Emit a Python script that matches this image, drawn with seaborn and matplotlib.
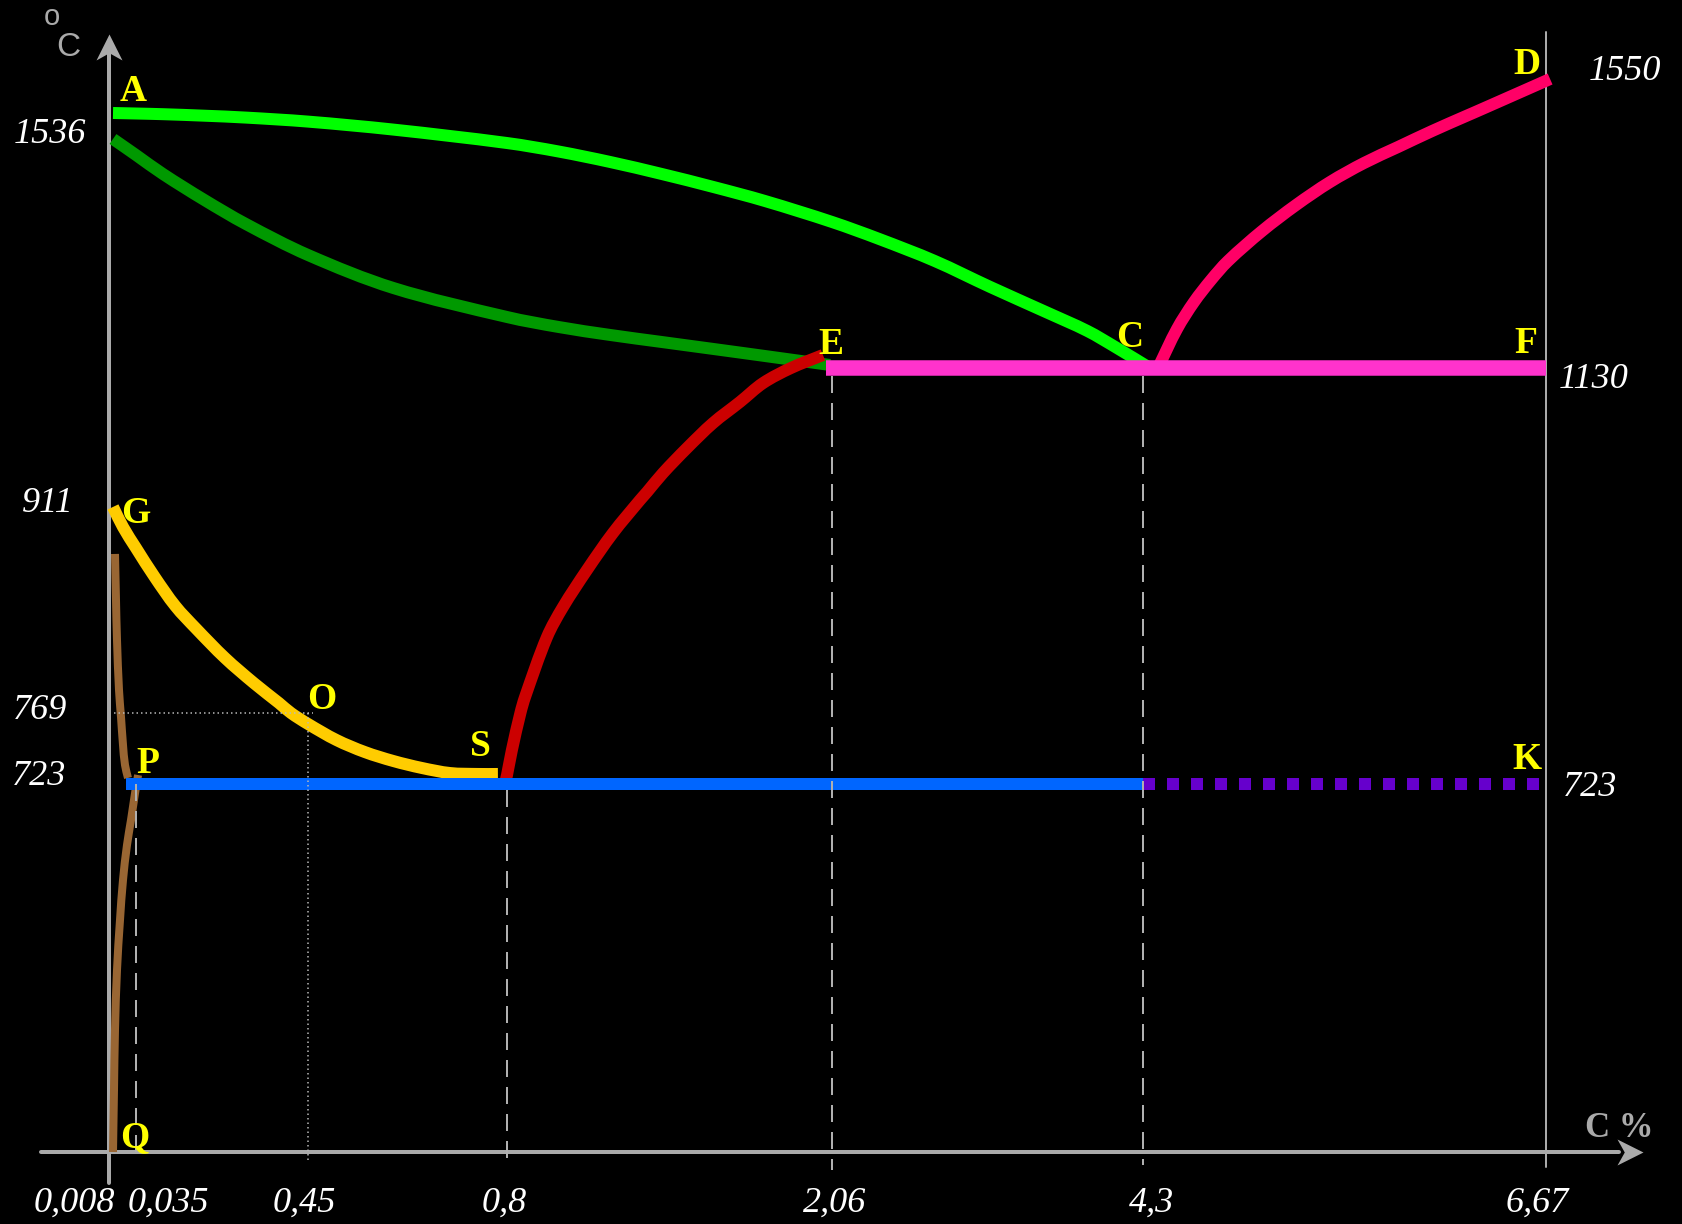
"""
Fe-C phase diagram (schematic), black background.
Axes are piecewise (non-linear) like the original sketch: FuncScale anchors.
"""
import numpy as np
import matplotlib
matplotlib.use('Agg')
import matplotlib.pyplot as plt
import seaborn as sns
from matplotlib.path import Path
from matplotlib.patheffects import AbstractPathEffect
from matplotlib.transforms import IdentityTransform

W, H = 1683, 1224

# ── data: carbon %, temperature °C ────────────────────────────────
X_TICK_VALUES = [0.008, 0.035, 0.45, 0.8, 2.06, 4.3, 6.67]
X_TICK_LABELS = ['0,008', '0,035', '0,45', '0,8', '2,06', '4,3', '6,67']
T_LEVELS      = [1550, 1536, 1130, 911, 769, 723]

# liquidus A-C
liq_c = [0.012, 0.035, 0.1, 0.2, 0.3, 0.45, 0.6, 0.8, 1.0, 1.2, 1.4, 1.6, 1.8,
         2.06, 2.4, 2.8, 3.2, 3.6, 3.9, 4.1, 4.341]
liq_t = [1536, 1535.2, 1534.1, 1531.7, 1528.7, 1522.3, 1509.6, 1488.2, 1474.7,
         1458.0, 1438.9, 1418.2, 1395.9, 1362.5, 1335.4, 1300.4, 1259.0, 1219.2,
         1188.9, 1163.5, 1130]
# solidus A-E
sol_c = [0.012, 0.035, 0.1, 0.2, 0.3, 0.45, 0.6, 0.8, 1.0, 1.2, 1.4, 1.6, 1.8, 2.052]
sol_t = [1494.6, 1469.1, 1438.9, 1397.5, 1359.3, 1309.9, 1257.4, 1211.2, 1195.3,
         1182.6, 1171.4, 1160.3, 1149.1, 1134.8]
# S-E (Acm)
se_c = [0.796, 0.8, 0.819, 0.852, 0.870, 0.955, 1.017, 1.110, 1.211, 1.316,
        1.343, 1.405, 1.498, 1.599, 1.703, 1.793, 1.901, 2.025]
se_t = [723, 728.8, 745.0, 769, 779.3, 817.8, 837.1, 860.9, 884.7, 905.9,
        911, 944.6, 988.7, 1032.9, 1070.0, 1103.5, 1130, 1150.7]
# C-D
cd_c = [4.388, 4.5, 4.6, 4.7, 4.8, 5.0, 5.2, 5.4, 5.6, 5.8, 6.0, 6.2, 6.241, 6.4, 6.694]
cd_t = [1130, 1192.1, 1235.1, 1270.1, 1300.4, 1348.1, 1389.5, 1426.1, 1456.4,
        1481.9, 1507.3, 1531.2, 1536, 1540.9, 1550]
# G-O-S
gs_c = [0.012, 0.022, 0.035, 0.08, 0.13, 0.18, 0.25, 0.32, 0.38, 0.409, 0.45, 0.5,
        0.55, 0.6, 0.65, 0.7, 0.75, 0.784]
gs_t = [901.4, 888.5, 875.0, 856.4, 837.7, 823.2, 804.3, 788.1, 775.4, 769, 761.9,
        751.5, 743.7, 737.9, 733.4, 730.1, 729.5, 729.5]
# G-P (upper brown) and P-Q (lower brown)
gp_c = [0.014, 0.015, 0.016, 0.018, 0.020, 0.022, 0.024, 0.027]
gp_t = [871.2, 841.6, 815.9, 783.8, 766.4, 748.3, 735.3, 726.9]
pq_c = [0.040, 0.035, 0.033, 0.030, 0.026, 0.022, 0.019, 0.016, 0.014, 0.013, 0.012]
pq_t = [728.8, 717.0, 691.6, 652.3, 603.2, 534.4, 455.8, 357.6, 239.7, 121.8, 0]
# horizontals
ecf_c, ecf_t = [2.037, 6.67], [1130, 1130]
psk_c, psk_t = [0.025, 4.3], [723, 723]
sk_c, sk_t   = [4.3, 6.67], [723, 723]

# ── layout: scale anchors (value -> pixel) ────────────────────────
X_ANCHOR = [-0.101, 0.008, 0.035, 0.45, 0.8, 2.06, 4.3, 6.67, 7.476]
X_PIX    = [0, 109, 136, 308, 507, 832, 1143, 1546, 1683]
T_ANCHOR = [-141.5, 0, 723, 769, 911, 1130, 1536, 1550, 1582.5]
T_PIX    = [1224, 1152, 784, 713, 492, 368, 113, 79, 0]


def make_interp(xp, fp):
    xp = np.asarray(xp, float)
    fp = np.asarray(fp, float)
    s0 = (fp[1] - fp[0]) / (xp[1] - xp[0])
    s1 = (fp[-1] - fp[-2]) / (xp[-1] - xp[-2])

    def f(v):
        v = np.asarray(v, float)
        out = np.interp(v, xp, fp)
        out = np.where(v < xp[0], fp[0] + (v - xp[0]) * s0, out)
        out = np.where(v > xp[-1], fp[-1] + (v - xp[-1]) * s1, out)
        return out
    return f


class Smooth(AbstractPathEffect):
    """Render a polyline as a smooth Bezier through its own vertices."""
    def draw_path(self, renderer, gc, tpath, affine, rgbFace=None):
        p = affine.transform(tpath.vertices)
        n = len(p)
        if n < 3:
            renderer.draw_path(gc, tpath, affine, rgbFace)
            return
        tang = np.empty_like(p)
        tang[0] = p[1] - p[0]
        tang[-1] = p[-1] - p[-2]
        tang[1:-1] = p[2:] - p[:-2]
        tang /= np.linalg.norm(tang, axis=1)[:, None]
        verts, codes = [p[0]], [Path.MOVETO]
        for i in range(n - 1):
            d = np.linalg.norm(p[i + 1] - p[i]) / 3
            verts += [p[i] + tang[i] * d, p[i + 1] - tang[i + 1] * d, p[i + 1]]
            codes += [Path.CURVE4] * 3
        renderer.draw_path(gc, Path(np.array(verts), codes), IdentityTransform(), rgbFace)


t_h = [H - p for p in T_PIX]

sns.set_style('dark', {'axes.facecolor': 'black', 'figure.facecolor': 'black'})
plt.rcParams['font.family'] = ['Liberation Serif', 'DejaVu Serif']

fig = plt.figure(figsize=(W / 100, H / 100), dpi=100)
ax = fig.add_axes([0, 0, 1, 1])
ax.set_xscale('function', functions=(make_interp(X_ANCHOR, X_PIX),
                                     make_interp(X_PIX, X_ANCHOR)))
ax.set_yscale('function', functions=(make_interp(T_ANCHOR, t_h),
                                     make_interp(t_h, T_ANCHOR)))

PX = 0.72   # points per pixel at dpi 100
GREY = '#aaaaaa'

# axes with arrows
ax.plot([0.008, 0.008], [-60.9, 1560.7], color=GREY, lw=4 * PX, zorder=2)
ax.plot([-0.060, 7.10], [0, 0], color=GREY, lw=4 * PX, zorder=2)
head_up = Path([(0, 0), (-0.5, -1), (0, -0.72), (0.5, -1), (0, 0)],
               [Path.MOVETO, Path.LINETO, Path.LINETO, Path.LINETO, Path.CLOSEPOLY])
head_rt = Path([(0, 0), (-1, 0.5), (-0.72, 0), (-1, -0.5), (0, 0)],
               [Path.MOVETO, Path.LINETO, Path.LINETO, Path.LINETO, Path.CLOSEPOLY])
ax.plot([0.008], [1568.5], marker=head_up, ms=26 * 2 * PX, mfc=GREY, mew=0, zorder=2)
ax.plot([7.241], [0], marker=head_rt, ms=26 * 2 * PX, mfc=GREY, mew=0, zorder=2)

# guides
dash = dict(color='#b0b0b0', lw=2 * PX, linestyle=(0, (8.5, 5)), zorder=5)
ax.plot([0.035, 0.035], [723, -17.7], **dash)
ax.plot([0.8, 0.8], [711, -15.7], **dash)
ax.plot([2.06, 2.06], [1116, -35.4], **dash)
ax.plot([4.3, 4.3], [1116, -25.5], **dash)
ax.plot([6.67, 6.67], [1569.4, -29.5], color=GREY, lw=2 * PX, zorder=2)
dot = dict(color='#bbbbbb', lw=1.5 * PX, linestyle=(0, (1, 2)), zorder=5)
ax.plot([0.013, 0.459], [769, 769], **dot)
ax.plot([0.45, 0.45], [769, -15.7], **dot)

# phase lines
lw = 12 * PX
curves = [
    (liq_c, liq_t, '#00ff00', lw),
    (sol_c, sol_t, '#009900', lw),
    (se_c, se_t, '#cc0000', lw),
    (cd_c, cd_t, '#ff0066', lw),
    (gs_c, gs_t, '#ffcc00', lw),
    (gp_c, gp_t, '#996633', 8 * PX),
    (pq_c, pq_t, '#996633', 8 * PX),
]
for cx, ct, col, w in curves:
    sns.lineplot(x=np.array(cx), y=np.array(ct), sort=False, estimator=None,
                 color=col, lw=w, solid_capstyle='butt', solid_joinstyle='round',
                 path_effects=[Smooth()], ax=ax, zorder=3)

sns.lineplot(x=np.array(ecf_c), y=np.array(ecf_t), sort=False, estimator=None,
             color='#ff33cc', lw=15.5 * PX, solid_capstyle='butt', ax=ax, zorder=4)
sns.lineplot(x=np.array(psk_c), y=np.array(psk_t), sort=False, estimator=None,
             color='#0066ff', lw=lw, solid_capstyle='butt', ax=ax, zorder=4)
sns.lineplot(x=np.array(sk_c), y=np.array(sk_t), sort=False, estimator=None,
             color='#6600cc', lw=lw, linestyle=(0, (1, 1)), dash_capstyle='butt',
             ax=ax, zorder=4)

ax.set_xlim(X_ANCHOR[0], X_ANCHOR[-1])
ax.set_ylim(T_ANCHOR[0], T_ANCHOR[-1])
ax.set_axis_off()


def label(x, y, s, **kw):
    ax.text(x / W, 1 - y / H, s, transform=ax.transAxes, ha='center',
            va='baseline', zorder=6, **kw)


# point letters (centre x, baseline y in pixels)
points = {'A': (133, 101), 'D': (1527, 74), 'E': (831, 354), 'C': (1130, 347),
          'F': (1526, 353), 'G': (136, 523), 'O': (322, 709), 'S': (480, 756),
          'P': (148, 773), 'K': (1527, 769), 'Q': (135, 1147)}
for name, (x, y) in points.items():
    label(x, y, name, color='#ffff00', fontsize=27, fontweight='bold')

num = dict(color='white', fontsize=26, fontstyle='italic')
t_label_pos = [(1625, 80), (50, 143), (1594, 388), (48, 512), (40, 719), (39, 785)]
for t, (x, y) in zip(T_LEVELS, t_label_pos):
    label(x, y, str(t), **num)
label(1590, 796, str(T_LEVELS[-1]), **num)

x_label_pos = [74, 168, 304, 504, 835, 1152, 1537]
for s, x in zip(X_TICK_LABELS, x_label_pos):
    label(x, 1212, s, **num)

sans = ['Liberation Sans', 'DejaVu Sans']
label(52, 25, 'o', color=GREY, fontsize=21, family=sans)
label(68.5, 56, 'C', color=GREY, fontsize=24, family=sans)
label(1619, 1137, 'C %', color=GREY, fontsize=25, fontweight='bold')

fig.savefig('out.png', dpi=100, facecolor='black')
plt.close(fig)
